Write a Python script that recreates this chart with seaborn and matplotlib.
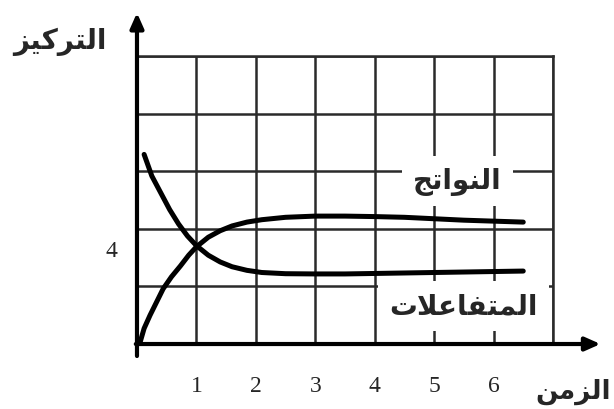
import numpy as np
import pandas as pd
import matplotlib
matplotlib.use("Agg")
import matplotlib.pyplot as plt
import seaborn as sns

# values (time in grid columns, concentration with the crossing at 4)
time_reactants = [0.12, 0.25, 0.4, 0.55, 0.7, 0.85, 1.0, 1.2, 1.4, 1.6, 1.85, 2.1, 2.5,
                  3.0, 3.5, 4.0, 4.5, 5.0, 5.5, 6.0, 6.5]
conc_reactants = [7.9, 7.0, 6.3, 5.6, 5.0, 4.5, 4.1, 3.7, 3.42, 3.22, 3.07, 2.98, 2.93,
                  2.92, 2.92, 2.94, 2.96, 2.98, 3.0, 3.02, 3.04]
time_products = [0.05, 0.12, 0.22, 0.33, 0.44, 0.58, 0.73, 0.87, 1.0, 1.2, 1.4, 1.6, 1.85,
                 2.1, 2.5, 3.0, 3.5, 4.0, 4.5, 5.0, 5.5, 6.0, 6.5]
conc_products = [0.05, 0.65, 1.2, 1.75, 2.3, 2.8, 3.25, 3.7, 4.05, 4.45, 4.72, 4.92, 5.08,
                 5.18, 5.28, 5.33, 5.33, 5.31, 5.28, 5.22, 5.16, 5.12, 5.08]
x_ticks = [1, 2, 3, 4, 5, 6]
x_labels = ["1", "2", "3", "4", "5", "6"]
y_ticks = [4]
y_labels = ["4"]
x_label = "الزمن"
y_label = "التركيز"
label_products = "النواتج"
label_reactants = "المتفاعلات"

# matplotlib has no arabic shaping, so pick the presentation forms by hand
FORMS = {  # isolated, final, initial, medial
    "ا": ("\uFE8D", "\uFE8E", None, None),
    "ل": ("\uFEDD", "\uFEDE", "\uFEDF", "\uFEE0"),
    "ت": ("\uFE95", "\uFE96", "\uFE97", "\uFE98"),
    "ر": ("\uFEAD", "\uFEAE", None, None),
    "ك": ("\uFED9", "\uFEDA", "\uFEDB", "\uFEDC"),
    "ي": ("\uFEF1", "\uFEF2", "\uFEF3", "\uFEF4"),
    "ز": ("\uFEAF", "\uFEB0", None, None),
    "م": ("\uFEE1", "\uFEE2", "\uFEE3", "\uFEE4"),
    "ن": ("\uFEE5", "\uFEE6", "\uFEE7", "\uFEE8"),
    "و": ("\uFEED", "\uFEEE", None, None),
    "ج": ("\uFE9D", "\uFE9E", "\uFE9F", "\uFEA0"),
    "ف": ("\uFED1", "\uFED2", "\uFED3", "\uFED4"),
    "ع": ("\uFEC9", "\uFECA", "\uFECB", "\uFECC"),
    "لا": ("\uFEFB", "\uFEFC", None, None),
}


def shape(word):
    toks = []
    i = 0
    while i < len(word):
        if word[i] == "ل" and i + 1 < len(word) and word[i + 1] == "ا":
            toks.append("لا")
            i += 2
        else:
            toks.append(word[i])
            i += 1
    out = []
    for k, t in enumerate(toks):
        f = FORMS[t]
        prev = k > 0 and FORMS[toks[k - 1]][2] is not None
        nxt = f[2] is not None and k < len(toks) - 1
        if prev and nxt:
            g = f[3]
        elif prev:
            g = f[1]
        elif nxt:
            g = f[2]
        else:
            g = f[0]
        out.append(g)
    return "".join(reversed(out))


sns.set_style("white")
plt.rcParams["font.family"] = ["DejaVu Sans"]

df = pd.concat([
    pd.DataFrame({"t": time_reactants, "c": conc_reactants, "s": "r"}),
    pd.DataFrame({"t": time_products, "c": conc_products, "s": "p"}),
])

fig = plt.figure(figsize=(6.14, 4.10), dpi=100)
ax = fig.add_axes([0.2231, 0.1585, 0.6775, 0.7024])

sns.lineplot(data=df, x="t", y="c", units="s", estimator=None, sort=False,
             color="black", lw=3.6, ax=ax, zorder=5)

ax.set_xlim(0, 7)
ax.set_ylim(0, 12)
ax.set_xticks([0, 7], minor=True)
ax.set_yticks(np.arange(0, 12.1, 2.4), minor=True)
ax.set_xticks(x_ticks)
ax.set_xticklabels(x_labels, family="Liberation Serif", fontsize=17)
ax.set_yticks(y_ticks)
ax.set_yticklabels(y_labels, family="Liberation Serif", fontsize=17)
ax.grid(True, which="both", axis="x", color="#2a2a2a", lw=1.8)
ax.grid(True, which="minor", axis="y", color="#2a2a2a", lw=1.8)
ax.tick_params(which="both", length=0)
ax.tick_params(axis="x", pad=22)
ax.tick_params(axis="y", pad=14)
ax.set_xlabel("")
ax.set_ylabel("")
for side in ["top", "right"]:
    ax.spines[side].set_color("#2a2a2a")
    ax.spines[side].set_linewidth(1.8)
for side in ["left", "bottom"]:
    ax.spines[side].set_visible(False)

# axis arrows
arrow = dict(arrowstyle="-|>,head_length=0.9,head_width=0.4", color="black", lw=3, shrinkA=0, shrinkB=0)
ax.annotate("", xy=(7.8, 0), xytext=(-0.02, 0), arrowprops=arrow, annotation_clip=False, zorder=6)
ax.annotate("", xy=(0, 13.8), xytext=(0, -0.5), arrowprops=arrow, annotation_clip=False, zorder=6)

ax.text(5.39, 6.8, shape(label_products), fontsize=20, fontweight="bold", ha="center", va="center",
        bbox=dict(facecolor="white", edgecolor="none", pad=8), zorder=4)
ax.text(5.49, 1.6, shape(label_reactants), fontsize=20, fontweight="bold", ha="center", va="center",
        bbox=dict(facecolor="white", edgecolor="none", pad=8), zorder=4)

fig.text(0.098, 0.898, shape(y_label), fontsize=20, fontweight="bold", ha="center", va="center")
fig.text(0.995, 0.045, shape(x_label), fontsize=19, fontweight="bold", ha="right", va="center")

fig.savefig("out.png", dpi=100)
